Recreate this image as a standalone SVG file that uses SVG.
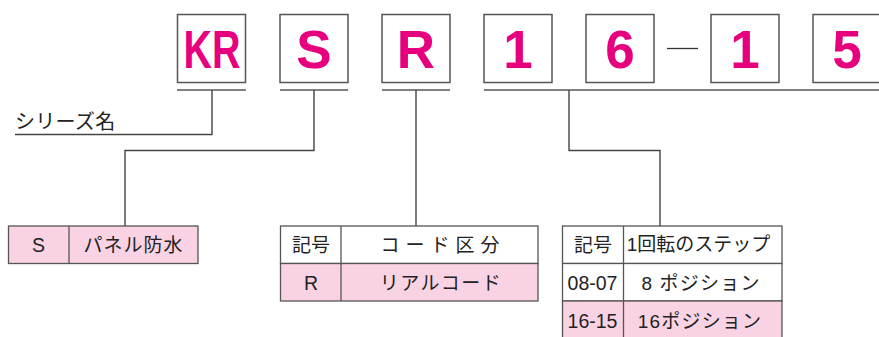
<svg xmlns="http://www.w3.org/2000/svg" width="879" height="337" viewBox="0 0 879 337">
<style>
.box{fill:#fff;stroke:#555;stroke-width:1.5}
.big{font-family:"Liberation Sans",Arial,sans-serif;font-weight:bold;font-size:53px;fill:#E6007E;text-anchor:middle}
.ul{stroke:#808080;stroke-width:2;fill:none}
.con{stroke:#444;stroke-width:1.4;fill:none}
.cell{stroke:#555;stroke-width:1.3}
.pink{fill:#F9D3E3}
.white{fill:#fff}
.t{font-family:"Liberation Sans","Noto Sans CJK JP",sans-serif;font-size:19px;fill:#222;text-anchor:middle}
.n{font-family:"Liberation Sans",Arial,sans-serif;font-size:19.5px;fill:#222;text-anchor:middle}
</style>
<rect width="879" height="337" fill="#fff"/>
<g id="code">
  <g id="box-kr"><rect class="box" x="177.5" y="14.5" width="68" height="68"/><text class="big" x="212" y="68" textLength="57" lengthAdjust="spacingAndGlyphs">KR</text></g>
  <g id="box-s"><rect class="box" x="280" y="14.5" width="68" height="68"/><text class="big" x="314" y="68">S</text></g>
  <g id="box-r"><rect class="box" x="382" y="14.5" width="68" height="68"/><text class="big" x="416" y="68">R</text></g>
  <g id="box-1a"><rect class="box" x="484" y="14.5" width="68" height="68"/><text class="big" x="518" y="68">1</text></g>
  <g id="box-6"><rect class="box" x="586" y="14.5" width="68" height="68"/><text class="big" x="620" y="68">6</text></g>
  <g id="dash"><line x1="667" y1="48.5" x2="698" y2="48.5" stroke="#333" stroke-width="1.3"/></g>
  <g id="box-1b"><rect class="box" x="711" y="14.5" width="68" height="68"/><text class="big" x="745" y="68">1</text></g>
  <g id="box-5"><rect class="box" x="813" y="14.5" width="68" height="68"/><text class="big" x="847" y="68">5</text></g>
</g>
<g id="connectors">
  <line class="ul" x1="177" y1="90" x2="246" y2="90"/>
  <line class="ul" x1="280" y1="90" x2="348" y2="90"/>
  <line class="ul" x1="382" y1="90" x2="450" y2="90"/>
  <line class="ul" x1="484" y1="90" x2="879" y2="90"/>
  <path class="con" d="M212 90 V134.5 H15"/>
  <path class="con" d="M314 90 V150.5 H125 V226"/>
  <path class="con" d="M416 90 V226"/>
  <path class="con" d="M569 90 V150.5 H660 V226"/>
</g>
<g id="series-name">
  <text x="15" y="128.5" font-family="'Noto Sans CJK JP',sans-serif" font-size="20" letter-spacing="0.3" fill="#222">シリーズ名</text>
</g>
<g id="table-s">
  <rect class="cell pink" x="8.5" y="226" width="189.5" height="37.5"/>
  <line class="cell" x1="69" y1="226" x2="69" y2="263.5"/>
  <text class="n" x="38.5" y="251.5">S</text>
  <text class="t" x="133.5" y="251.5" letter-spacing="1">パネル防水</text>
</g>
<g id="table-code">
  <rect class="cell white" x="280.5" y="226" width="257.5" height="37.5"/>
  <rect class="cell pink" x="280.5" y="263.5" width="257.5" height="37.5"/>
  <line class="cell" x1="341" y1="226" x2="341" y2="301"/>
  <text class="t" x="311" y="251.5">記号</text>
  <text class="t" x="443" y="251.5" letter-spacing="6">コード区分</text>
  <text class="n" x="311" y="289.5">R</text>
  <text class="t" x="441" y="289.5" letter-spacing="1.5">リアルコード</text>
</g>
<g id="table-step">
  <rect class="cell white" x="562.5" y="226" width="219.5" height="37.5"/>
  <rect class="cell white" x="562.5" y="263.5" width="219.5" height="37.5"/>
  <rect class="cell pink" x="562.5" y="301" width="219.5" height="40"/>
  <line class="cell" x1="623.5" y1="226" x2="623.5" y2="341"/>
  <text class="t" x="593" y="251.5">記号</text>
  <text class="t" x="698.5" y="251" font-size="17.5">1回転のステップ</text>
  <text class="n" x="592.5" y="289.5" font-size="20.5">08-07</text>
  <text class="t" x="701" y="289.5" letter-spacing="1.2">8 ポジション</text>
  <text class="n" x="592.5" y="328" font-size="20.5">16-15</text>
  <text class="t" x="700" y="328" letter-spacing="1.2">16ポジション</text>
</g>
</svg>
